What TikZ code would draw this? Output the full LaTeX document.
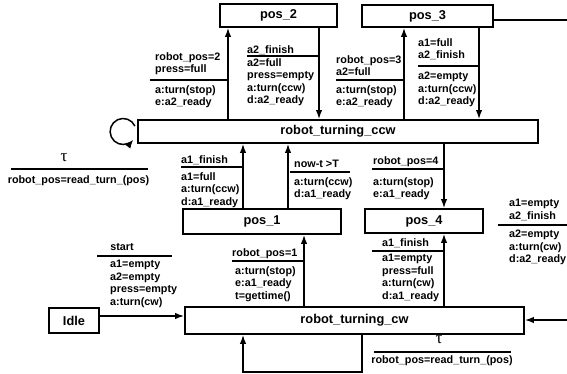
\documentclass[tikz,border=0pt]{standalone}
\usepackage{fontspec}
\setmainfont{Liberation Sans}
\newfontfamily\greekfont{Liberation Serif}
\usetikzlibrary{arrows.meta}
\tikzset{
  statebox/.style={draw, line width=1.8pt, inner sep=0pt, font=\fontsize{12.8}{15}\selectfont\bfseries},
  arr/.style={line width=1.5pt, -{Latex[length=9pt,width=6.5pt]}},
  plain/.style={line width=1.5pt},
  bar/.style={line width=2.6pt},
  lbl/.style={anchor=north west, align=left, inner sep=0pt, font=\fontsize{10.8}{12.6}\selectfont\bfseries, execute at begin node=\strut},
  ctr/.style={anchor=center, inner sep=0pt, font=\fontsize{10.8}{12.8}\selectfont\bfseries},
  tau/.style={anchor=center, inner sep=0pt, font=\fontsize{17}{17}\selectfont\greekfont}
}
\begin{document}
\begin{tikzpicture}[x=1pt,y=-1pt]
\useasboundingbox (0,0) rectangle (567,374);
% states
\node[statebox, minimum width=117pt, minimum height=23pt] (pos2) at (278.5,15.5) {pos\_2};
\node[statebox, minimum width=131pt, minimum height=22pt] (pos3) at (427.5,16) {pos\_3};
\node[statebox, minimum width=400pt, minimum height=23pt] (ccw) at (338,131.5) {robot\_turning\_ccw};
\node[statebox, minimum width=158pt, minimum height=25pt] (pos1) at (262,221.5) {pos\_1};
\node[statebox, minimum width=118pt, minimum height=24pt] (pos4) at (424,221) {pos\_4};
\node[statebox, minimum width=50pt, minimum height=25pt] (idle) at (74,320.5) {Idle};
\node[statebox, minimum width=339pt, minimum height=27pt] (cw) at (354.5,320.5) {robot\_turning\_cw};
\coordinate (r1) at (567,20);
\coordinate (r2) at (567,320);
\coordinate (lp1) at (362,372);
\coordinate (lp2) at (243,372);
% connectors
\draw[arr] (228,0 |- ccw.north) -- (228,0 |- pos2.south);
\draw[arr] (319,0 |- pos2.south) -- (319,0 |- ccw.north);
\draw[arr] (404,0 |- ccw.north) -- (404,0 |- pos3.south);
\draw[arr] (479,0 |- pos3.south) -- (479,0 |- ccw.north);
\draw[plain] (pos3.east |- r1) -- (r1);
\draw[arr] (243,0 |- pos1.north) -- (243,0 |- ccw.south);
\draw[arr] (288,0 |- pos1.north) -- (288,0 |- ccw.south);
\draw[arr] (444,0 |- ccw.south) -- (444,0 |- pos4.north);
\draw[arr] (304,0 |- cw.north) -- (304,0 |- pos1.south);
\draw[arr] (444,0 |- cw.north) -- (444,0 |- pos4.south);
\draw[arr] ([yshift=4.5pt]idle.east) -- ([yshift=4.5pt]cw.west);
\draw[arr] (r2) -- (cw.east |- r2);
\draw[arr] (362,0 |- cw.south) -- (lp1) -- (lp2) -- (243,0 |- cw.south);
\draw[arr] (ccw.west) ++(-2.2,-5.5) arc[start angle=25, end angle=322, radius=13pt];
% labels
\node[lbl] (tA1) at (155,52) {robot\_pos=2\\press=full};
\draw[bar] (150,80) -- (228,80);
\node[lbl] (tA2) at (155,85) {a:turn(stop)\\e:a2\_ready};
\node[lbl] (tB1) at (247,44) {a2\_finish};
\draw[bar] (247,56) -- (319,56);
\node[lbl] (tB2) at (247,58) {a2=full\\press=empty\\a:turn(ccw)\\d:a2\_ready};
\node[lbl] (tC1) at (336,55) {robot\_pos=3\\a2=full};
\draw[bar] (336,80) -- (404,80);
\node[lbl] (tC2) at (336,85) {a:turn(stop)\\e:a2\_ready};
\node[lbl] (tD1) at (418,38) {a1=full\\a2\_finish};
\draw[bar] (418,66) -- (479,66);
\node[lbl] (tD2) at (418,72) {a2=empty\\a:turn(ccw)\\d:a2\_ready};
\node[tau] (tE0) at (64,158) {τ};
\draw[bar] (11,169) -- (148,169);
\node[ctr] (tE1) at (78.5,181) {robot\_pos=read\_turn\_(pos)};
\node[lbl] (tF1) at (181,154) {a1\_finish};
\draw[bar] (181,167) -- (243,167);
\node[lbl] (tF2) at (181,172) {a1=full\\a:turn(ccw)\\d:a1\_ready};
\node[lbl] (tG1) at (294,158) {now-t {>}T};
\draw[bar] (290,172) -- (350,172);
\node[lbl] (tG2) at (294,177) {a:turn(ccw)\\d:a1\_ready};
\node[lbl] (tH1) at (373,155) {robot\_pos=4};
\draw[bar] (372,169) -- (444,169);
\node[lbl] (tH2) at (373,177) {a:turn(stop)\\e:a1\_ready};
\node[ctr] (tI1) at (122,247) {start};
\draw[bar] (97,256) -- (172,256);
\node[lbl] (tI2) at (110,260) {a1=empty\\a2=empty\\press=empty\\a:turn(cw)};
\node[lbl] (tJ1) at (232,247) {robot\_pos=1};
\draw[bar] (232,261) -- (304,261);
\node[lbl] (tJ2) at (235,266) {a:turn(stop)\\e:a1\_ready\\t=gettime()};
\node[lbl] (tK1) at (382,237) {a1\_finish};
\draw[bar] (372,251) -- (444,251);
\node[lbl] (tK2) at (382,254) {a1=empty\\press=full\\a:turn(cw)\\d:a1\_ready};
\node[lbl] (tL1) at (509,199) {a1=empty\\a2\_finish};
\draw[bar] (498,225) -- (567,225);
\node[lbl] (tL2) at (509,230) {a2=empty\\a:turn(cw)\\d:a2\_ready};
\node[tau] (tM0) at (439,340) {τ};
\draw[bar] (374,352) -- (511,352);
\node[ctr] (tM1) at (442,361) {robot\_pos=read\_turn\_(pos)};
\end{tikzpicture}
\end{document}
